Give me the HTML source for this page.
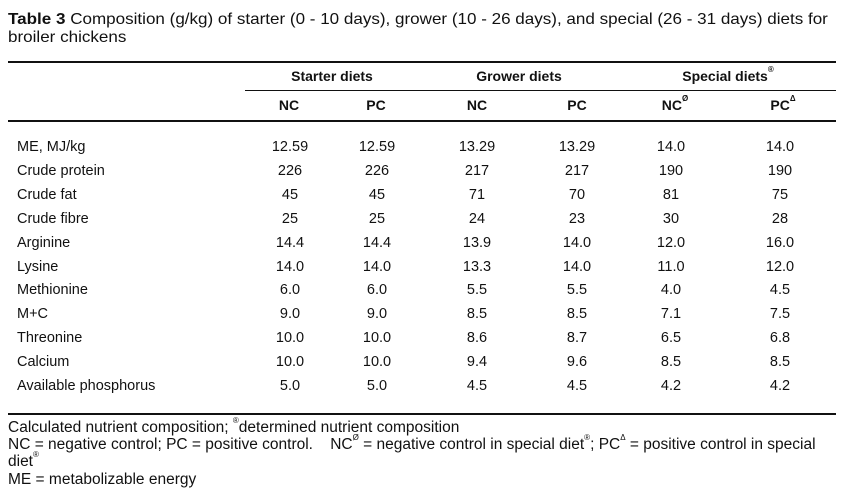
<!DOCTYPE html>
<html><head><meta charset="utf-8"><style>
body{margin:0;width:844px;height:493px;background:#fff;position:relative;overflow:hidden;font-family:"Liberation Sans",Arial,sans-serif;color:#111}
.t{position:absolute;white-space:nowrap}
.n{transform:scaleX(1.065);transform-origin:left top}
.f{transform:scaleX(1.0);transform-origin:left top}
.c{transform:translateX(-50%)}
.hc{transform:translateX(-50%)}
.rule{position:absolute;height:1px;background:#111}
.r{position:absolute;font-size:14.5px}
.h{font-size:14px;font-weight:bold}
sup{font-size:8px;vertical-align:top;position:relative;top:-3px}
</style></head><body>
<div class="t n" style="left:8px;top:11px;font-size:16px"><b>Table 3</b> Composition (g/kg) of starter (0 - 10 days), grower (10 - 26 days), and special (26 - 31 days) diets for</div>
<div class="t n" style="left:8px;top:29px;font-size:16px">broiler chickens</div>
<div class="rule" style="left:8px;right:8px;top:61px;height:1.5px"></div>
<div class="t hc h" style="left:332px;top:68px">Starter diets</div>
<div class="t hc h" style="left:519px;top:68px">Grower diets</div>
<div class="t hc h" style="left:728px;top:68px">Special diets<sup>®</sup></div>
<div class="rule" style="left:245px;right:8px;top:90px"></div>
<div class="t hc h" style="left:289px;top:97px">NC</div>
<div class="t hc h" style="left:376px;top:97px">PC</div>
<div class="t hc h" style="left:477px;top:97px">NC</div>
<div class="t hc h" style="left:577px;top:97px">PC</div>
<div class="t hc h" style="left:675px;top:97px">NC<sup>Ø</sup></div>
<div class="t hc h" style="left:783px;top:97px">PC<sup>Δ</sup></div>
<div class="rule" style="left:8px;right:8px;top:120px;height:1.5px"></div>
<div id="body"></div>
<div class="rule" style="left:8px;right:8px;top:413px;height:1.5px"></div>
<div class="t f" style="left:8px;top:419px;font-size:15.5px">Calculated nutrient composition; <sup>®</sup>determined nutrient composition</div>
<div class="t f" style="left:8px;top:436px;font-size:15.5px">NC = negative control; PC = positive control.&nbsp;&nbsp;&nbsp; NC<sup>Ø</sup> = negative control in special diet<sup>®</sup>; PC<sup>Δ</sup> = positive control in special</div>
<div class="t f" style="left:8px;top:453px;font-size:15.5px">diet<sup>®</sup></div>
<div class="t f" style="left:8px;top:471px;font-size:15.5px">ME = metabolizable energy</div>
<script>
const rowLabels=["ME, MJ/kg","Crude protein","Crude fat","Crude fibre","Arginine","Lysine","Methionine","M+C","Threonine","Calcium","Available phosphorus"];
const starterNC=["12.59","226","45","25","14.4","14.0","6.0","9.0","10.0","10.0","5.0"];
const starterPC=["12.59","226","45","25","14.4","14.0","6.0","9.0","10.0","10.0","5.0"];
const growerNC=["13.29","217","71","24","13.9","13.3","5.5","8.5","8.6","9.4","4.5"];
const growerPC=["13.29","217","70","23","14.0","14.0","5.5","8.5","8.7","9.6","4.5"];
const specialNC=["14.0","190","81","30","12.0","11.0","4.0","7.1","6.5","8.5","4.2"];
const specialPC=["14.0","190","75","28","16.0","12.0","4.5","7.5","6.8","8.5","4.2"];
const body=document.getElementById('body');
const cols=[[starterNC,290,'starter-nc'],[starterPC,377,'starter-pc'],[growerNC,477,'grower-nc'],[growerPC,577,'grower-pc'],[specialNC,671,'special-nc'],[specialPC,780,'special-pc']];
rowLabels.forEach((lab,i)=>{
  const y=139+i*23.9;
  const l=document.createElement('div');
  l.className='t r';
  l.style.left='17px';l.style.top=y+'px';l.textContent=lab;
  
  
  body.appendChild(l);
  cols.forEach(([arr,x,nm])=>{
    const d=document.createElement('div');
    d.className='t r c';
    d.style.left=x+'px';d.style.top=y+'px';d.textContent=arr[i];
    
    
    body.appendChild(d);
  });
});
</script>
</body></html>
